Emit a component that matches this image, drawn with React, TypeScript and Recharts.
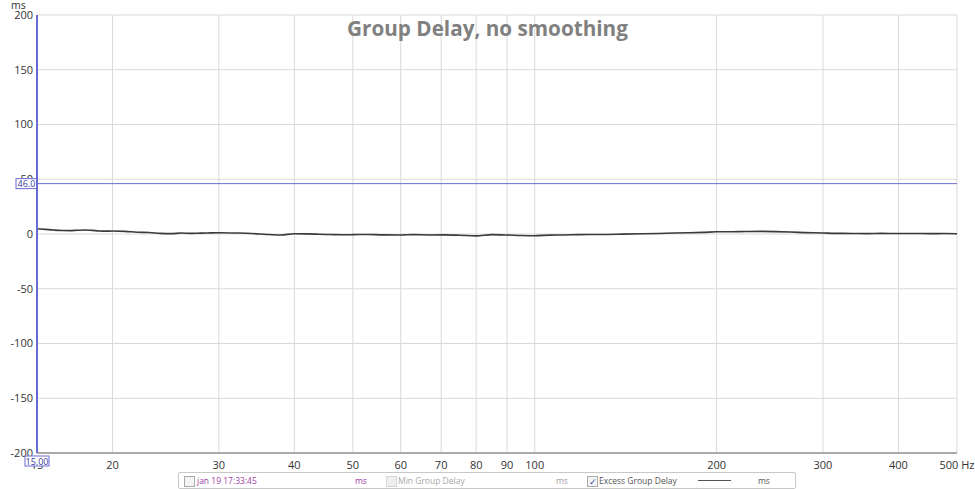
import { LineChart, Line, XAxis, YAxis, CartesianGrid, ReferenceLine } from "recharts";

const freqs = [
  15, 15.5, 16, 16.5, 17, 17.5, 18, 18.5, 19, 19.5, 20, 21, 22, 23, 24, 25, 26, 27, 28, 29, 30, 32, 34, 36, 38, 40,
  42, 44, 46, 48, 50, 53, 56, 60, 63, 67, 71, 75, 80, 85, 90, 95, 100, 106, 112, 118, 125, 132, 140, 150, 160, 170,
  180, 190, 200, 212, 224, 236, 250, 265, 280, 300, 315, 335, 355, 375, 400, 425, 450, 475, 500,
];
const excessDelay = [
  4.8, 4.2, 3.6, 3.2, 3.1, 3.4, 3.6, 3.3, 2.8, 2.6, 2.7, 2.4, 1.6, 1.4, 0.6, 0.3, 0.9, 0.6, 0.8, 1.0, 1.1, 0.9, 0.5,
  -0.4, -0.9, 0.2, 0.1, -0.2, -0.5, -0.7, -0.6, -0.4, -0.8, -0.9, -0.6, -0.9, -0.8, -1.1, -1.7, -0.6, -0.9, -1.4,
  -1.6, -1.0, -0.9, -0.6, -0.5, -0.4, -0.1, 0.2, 0.5, 0.9, 1.2, 1.5, 2.0, 2.1, 2.3, 2.4, 2.2, 1.8, 1.3, 0.9, 0.6,
  0.5, 0.3, 0.6, 0.4, 0.5, 0.3, 0.4, 0.2,
];
const xTicks = [15, 20, 30, 40, 50, 60, 70, 80, 90, 100, 200, 300, 400, 500];
const yTicks = [-200, -150, -100, -50, 0, 50, 100, 150, 200];
const cursorX = 15;
const cursorY = 46;

const data = freqs.map((f, i) => ({ f, v: excessDelay[i] }));

const BLUE = "#6a6ad4";
const tickStyle = { fontFamily: "Open Sans", fontSize: 11, fill: "#333" };

function YLabel(props: any) {
  const { x, y } = props.viewBox;
  return (
    <g>
      <rect x={x - 21} y={y - 5} width={21} height={10} fill="#fff" stroke={BLUE} strokeWidth={1} />
      <text x={x - 10.5} y={y + 3.5} textAnchor="middle" fontFamily="Open Sans" fontSize={9} fill="#3a3aa0">
        {cursorY.toFixed(1)}
      </text>
    </g>
  );
}

function XLabel(props: any) {
  const { x, y, height } = props.viewBox;
  const by = y + height + 3;
  return (
    <g>
      <rect x={x - 12} y={by} width={24} height={10} fill="#fff" stroke={BLUE} strokeWidth={1} />
      <text x={x} y={by + 8.5} textAnchor="middle" fontFamily="Open Sans" fontSize={9} fill="#3a3aa0">
        {cursorX.toFixed(2)}
      </text>
    </g>
  );
}

function Box({ checked, disabled }: { checked?: boolean; disabled?: boolean }) {
  return (
    <span
      style={{
        position: "absolute",
        top: 3,
        width: 9,
        height: 9,
        border: "1px solid " + (disabled ? "#d6d6d6" : "#aaa"),
        background: disabled ? "#eee" : "#f4f4f4",
        fontSize: 9,
        lineHeight: "9px",
        color: "#3344aa",
        textAlign: "center",
      }}
    >
      {checked ? "✓" : ""}
    </span>
  );
}

export default function App() {
  const lbl = (left: number, color: string, text: string) => (
    <span style={{ position: "absolute", left, top: 1, color, whiteSpace: "nowrap" }}>{text}</span>
  );
  return (
    <div style={{ position: "relative", width: 975, height: 489, background: "#fff" }}>
      <style>{"body{margin:0}"}</style>
      <LineChart width={975} height={489} data={data} margin={{ top: 15, right: 18, left: 0, bottom: 0 }}>
        <CartesianGrid stroke="#d9d9d9" horizontalValues={yTicks} verticalValues={xTicks} />
        <XAxis
          dataKey="f"
          type="number"
          scale="log"
          domain={[15, 500]}
          ticks={xTicks}
          allowDataOverflow
          height={36}
          tickSize={0}
          tickMargin={8}
          tickLine={false}
          axisLine={{ stroke: "#aaa", strokeWidth: 2 }}
          tick={tickStyle}
          tickFormatter={(v: number) => (v === 500 ? "500 Hz" : String(v))}
        />
        <XAxis
          xAxisId="top"
          orientation="top"
          dataKey="f"
          type="number"
          scale="log"
          domain={[15, 500]}
          height={0}
          tick={false}
          tickLine={false}
          axisLine={{ stroke: "#aaa", strokeWidth: 2 }}
        />
        <YAxis
          type="number"
          domain={[-200, 200]}
          ticks={yTicks}
          width={37}
          tickSize={0}
          tickMargin={4}
          tickLine={false}
          axisLine={false}
          tick={tickStyle}
        />
        <YAxis
          yAxisId="r"
          orientation="right"
          type="number"
          domain={[-200, 200]}
          width={0}
          tick={false}
          tickLine={false}
          axisLine={{ stroke: "#bbb", strokeWidth: 1.5 }}
        />
        <Line
          dataKey="v"
          type="monotone"
          stroke="#3a3a3a"
          strokeWidth={1.6}
          dot={false}
          isAnimationActive={false}
        />
        <ReferenceLine y={cursorY} stroke={BLUE} strokeWidth={1} zIndex={3000} label={<YLabel />} />
        <ReferenceLine x={cursorX} stroke={BLUE} strokeWidth={2} zIndex={3000} label={<XLabel />} />
      </LineChart>
      <div
        style={{
          position: "absolute",
          left: 0,
          top: 14,
          width: 975,
          textAlign: "center",
          fontFamily: "Open Sans",
          fontWeight: 700,
          fontSize: 20.7,
          color: "#808080",
          lineHeight: "28px",
        }}
      >
        Group Delay, no smoothing
      </div>
      <div
        style={{
          position: "absolute",
          left: 11,
          top: 0,
          fontFamily: "Open Sans",
          fontSize: 10.5,
          lineHeight: "10px",
          color: "#333",
        }}
      >
        ms
      </div>
      <div
        style={{
          position: "absolute",
          left: 178,
          top: 472,
          width: 616,
          height: 15,
          border: "1px solid #c8c8c8",
          borderRadius: 2,
          fontFamily: "Open Sans",
          fontSize: 8.5,
          lineHeight: "13px",
        }}
      >
        <span style={{ position: "absolute", left: 5 }}>
          <Box />
        </span>
        {lbl(18, "#a040a8", "jan 19 17:33:45")}
        {lbl(176, "#a040a8", "ms")}
        <span style={{ position: "absolute", left: 207 }}>
          <Box disabled />
        </span>
        {lbl(219, "#a8a8a8", "Min Group Delay")}
        {lbl(377, "#a0a0a0", "ms")}
        <span style={{ position: "absolute", left: 408 }}>
          <Box checked />
        </span>
        {lbl(420, "#555", "Excess Group Delay")}
        <span style={{ position: "absolute", left: 519, top: 7, width: 33, height: 1, background: "#555" }} />
        {lbl(579, "#555", "ms")}
      </div>
    </div>
  );
}
